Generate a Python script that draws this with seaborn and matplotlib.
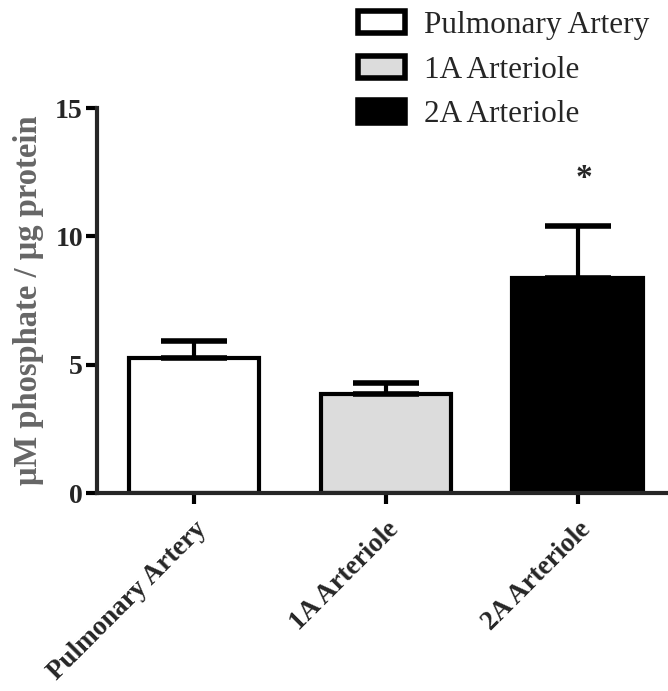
import matplotlib
matplotlib.use('Agg')
import matplotlib.pyplot as plt
import seaborn as sns
import pandas as pd
from matplotlib.patches import Patch

# data
groups = ['Pulmonary Artery', '1A Arteriole', '2A Arteriole']
means = [5.26, 3.86, 8.37]
sems = [0.66, 0.43, 2.03]
colors = ['#ffffff', '#dcdcdc', '#000000']
star_group = '2A Arteriole'

sns.set_style('ticks')
plt.rcParams['font.family'] = ['Liberation Serif', 'DejaVu Serif']

df = pd.DataFrame({'group': groups, 'mean': means})

fig = plt.figure(figsize=(6.68, 6.91), dpi=100)
ax = fig.add_axes([0.145, 0.2865, 0.855, 0.5572])

sns.barplot(data=df, x='group', y='mean', hue='group', palette=colors,
            order=groups, hue_order=groups, dodge=False, width=0.68,
            edgecolor='black', linewidth=3, legend=False, ax=ax)

# one-sided SEM bars
ax.errorbar(range(len(groups)), means, yerr=[[0] * len(groups), sems],
            fmt='none', ecolor='black', elinewidth=3, capsize=24, capthick=4,
            zorder=1)

i = groups.index(star_group)
ax.text(i + 0.03, means[i] + sems[i] + 1.87, '*', ha='center', va='center',
        fontsize=24, fontweight='bold')

ax.set_xlim(-0.505, 2.47)
ax.set_ylim(0, 15)
ax.set_yticks([0, 5, 10, 15])
ax.set_xlabel('')
ax.set_ylabel('\u03bcM phosphate / \u03bcg protein', fontsize=23.5,
              fontweight='bold', color='#666666', labelpad=8)
ax.set_xticks(range(len(groups)))
ax.set_xticklabels(groups, rotation=45, ha='right', rotation_mode='anchor',
                   fontsize=19.5, fontweight='bold')
for lab in ax.get_yticklabels():
    lab.set_fontsize(20)
    lab.set_fontweight('bold')
ax.tick_params(axis='both', width=3, length=8, color='black')
ax.tick_params(axis='x', pad=9)
ax.tick_params(axis='y', pad=2)
for s in ['left', 'bottom']:
    ax.spines[s].set_linewidth(3)
sns.despine(ax=ax)

handles = [Patch(facecolor=c, edgecolor='black', linewidth=4) for c in colors]
fig.legend(handles, groups, loc='upper left', bbox_to_anchor=(0.536, 0.984),
           frameon=False, fontsize=22.5, handlelength=1.5, handleheight=0.72,
           labelspacing=0.5, handletextpad=0.62, borderpad=0,
           borderaxespad=0)

fig.savefig('out.png', dpi=100)
